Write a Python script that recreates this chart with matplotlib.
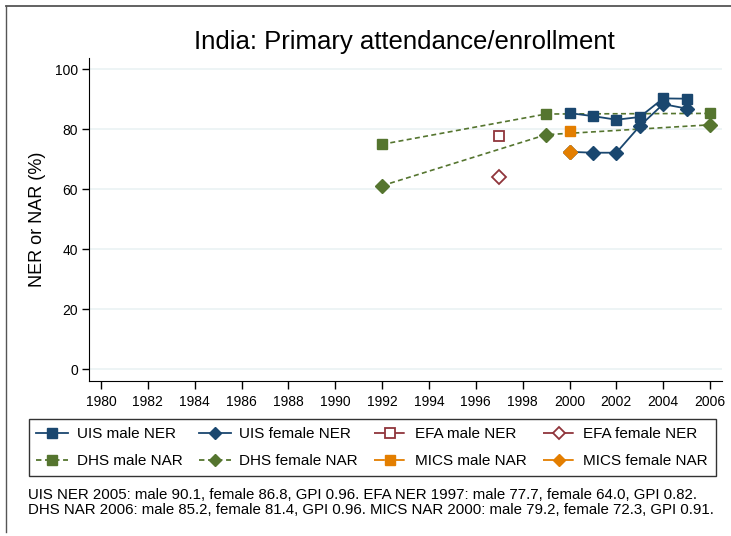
import matplotlib.pyplot as plt
from matplotlib.lines import Line2D

plt.rcParams['font.family'] = ['Liberation Sans', 'DejaVu Sans']

# data
uis_years = [2000, 2001, 2002, 2003, 2004, 2005]
uis_male = [85.3, 84.3, 83.1, 84.0, 90.2, 90.1]
uis_female = [72.4, 72.1, 72.1, 81.0, 88.3, 86.8]

dhs_years = [1992, 1999, 2006]
dhs_male = [74.9, 85.0, 85.2]
dhs_female = [61.1, 78.1, 81.4]

efa_years = [1997]
efa_male = [77.7]
efa_female = [64.0]

mics_years = [2000]
mics_male = [79.2]
mics_female = [72.3]

xticks = list(range(1980, 2007, 2))
yticks = [0, 20, 40, 60, 80, 100]

navy = '#1a476f'
maroon = '#90353b'
green = '#55752f'
orange = '#e37e00'

fig = plt.figure(figsize=(7.31, 5.36), dpi=100)
ax = fig.add_axes([0.1218, 0.2897, 0.8659, 0.6021])

ms = 7
ax.plot(dhs_years, dhs_male, color=green, ls=(0, (3, 2)), lw=1.2, marker='s', ms=ms, zorder=3)
ax.plot(dhs_years, dhs_female, color=green, ls=(0, (3, 2)), lw=1.2, marker='D', ms=ms, zorder=3)
ax.plot(efa_years, efa_male, color=maroon, ls='none', marker='s', ms=ms, mfc='white', mew=1.3, zorder=4)
ax.plot(efa_years, efa_female, color=maroon, ls='none', marker='D', ms=ms, mfc='white', mew=1.3, zorder=4)
ax.plot(uis_years, uis_male, color=navy, lw=1.3, marker='s', ms=ms, zorder=5)
ax.plot(uis_years, uis_female, color=navy, lw=1.3, marker='D', ms=ms, zorder=5)
ax.plot(mics_years, mics_male, color=orange, ls='none', marker='s', ms=ms, zorder=6)
ax.plot(mics_years, mics_female, color=orange, ls='none', marker='D', ms=ms, zorder=6)

ax.set_xlim(1979.49, 2006.51)
ax.set_ylim(-3.9, 103.67)
ax.set_xticks(xticks)
ax.set_yticks(yticks)
ax.tick_params(axis='x', length=6, width=1, labelsize=10, pad=4)
ax.tick_params(axis='y', length=5, width=1, labelsize=10, pad=3)
ax.grid(axis='y', color='#eaf2f3', lw=1.2, zorder=0)
ax.set_axisbelow(True)
for s in ['top', 'right']:
    ax.spines[s].set_visible(False)
ax.set_ylabel('NER or NAR (%)', fontsize=13, labelpad=6)

fig.text(0.5533, 0.922, 'India: Primary attendance/enrollment', ha='center', va='center', fontsize=18.5)

dashdot = (0, (6, 2, 1, 2))
lms = 6.5
handles = [
    Line2D([], [], color=navy, lw=1.3, marker='s', ms=lms),
    Line2D([], [], color=navy, lw=1.3, marker='D', ms=lms),
    Line2D([], [], color=maroon, lw=1.3, ls=dashdot, marker='s', ms=lms, mfc='white', mew=1.3),
    Line2D([], [], color=maroon, lw=1.3, ls=dashdot, marker='D', ms=lms, mfc='white', mew=1.3),
    Line2D([], [], color=green, lw=1.3, ls=(0, (3, 2)), marker='s', ms=lms),
    Line2D([], [], color=green, lw=1.3, ls=(0, (3, 2)), marker='D', ms=lms),
    Line2D([], [], color=orange, lw=1.3, ls=dashdot, marker='s', ms=lms),
    Line2D([], [], color=orange, lw=1.3, ls=dashdot, marker='D', ms=lms),
]
labels = ['UIS male NER', 'UIS female NER', 'EFA male NER', 'EFA female NER',
          'DHS male NAR', 'DHS female NAR', 'MICS male NAR', 'MICS female NAR']
order = [0, 4, 1, 5, 2, 6, 3, 7]
leg = fig.legend([handles[i] for i in order], [labels[i] for i in order], ncol=4,
                 loc='center', bbox_to_anchor=(0.509, 0.165), fontsize=11,
                 handlelength=2.1, columnspacing=1.07, handletextpad=0.55,
                 labelspacing=0.85, fancybox=False, edgecolor='black', frameon=True,
                 borderpad=0.5, borderaxespad=0)
leg.get_frame().set_linewidth(1.0)

note = ('UIS NER 2005: male 90.1, female 86.8, GPI 0.96. EFA NER 1997: male 77.7, female 64.0, GPI 0.82.\n'
        'DHS NAR 2006: male 85.2, female 81.4, GPI 0.96. MICS NAR 2000: male 79.2, female 72.3, GPI 0.91.')
fig.text(0.038, 0.089, note, ha='left', va='top', fontsize=10.8, linespacing=1.1)

# partial outer frame of the screenshot
fig.add_artist(Line2D([6 / 731, 1], [1 - 6 / 536, 1 - 6 / 536], transform=fig.transFigure, color='#555555', lw=1.3))
fig.add_artist(Line2D([6 / 731, 6 / 731], [1 - 6 / 536, 4 / 536], transform=fig.transFigure, color='#555555', lw=1.0))

fig.savefig('out.png', dpi=100)
